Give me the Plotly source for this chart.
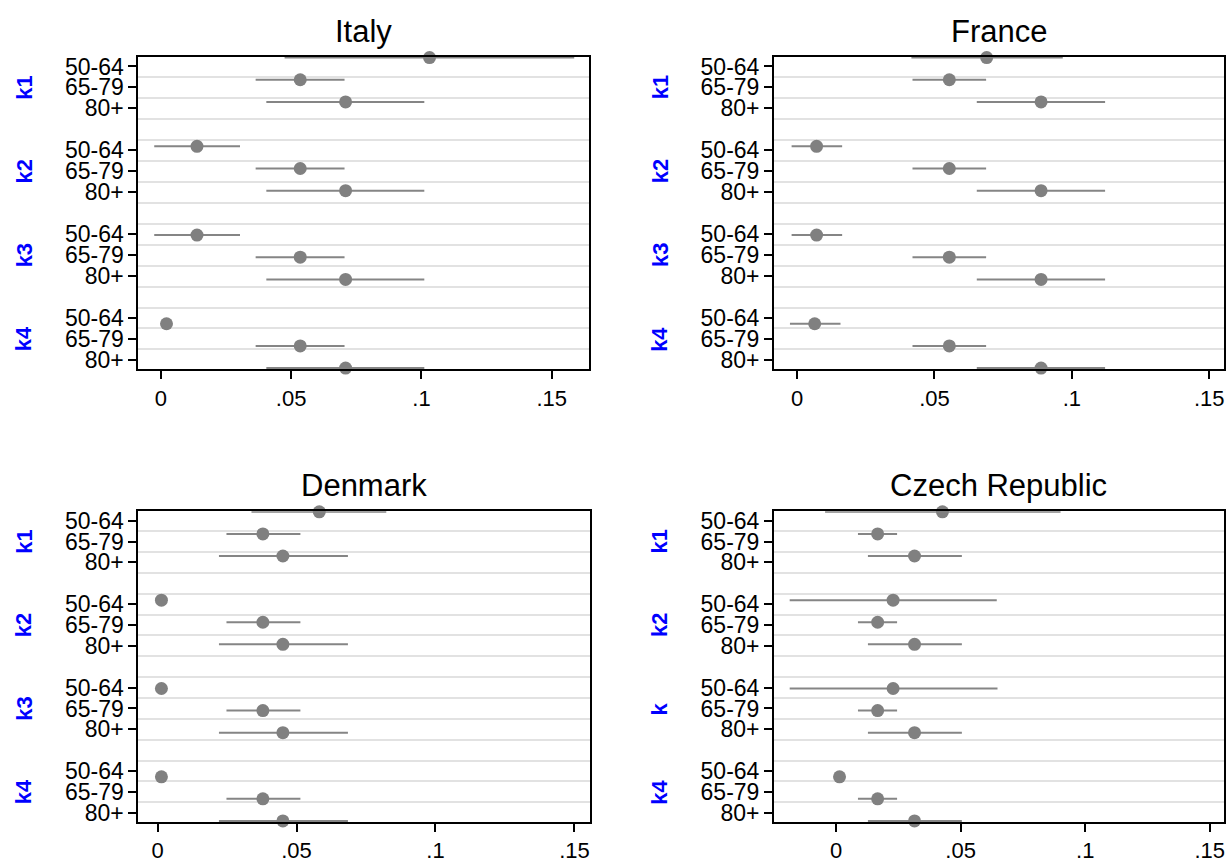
import plotly.graph_objects as go

# ---------------- data ----------------
countries = ["Italy", "France", "Denmark", "Czech Republic"]
age_groups = ["50-64", "65-79", "80+"]
group_names = {
    "Italy": ["k1", "k2", "k3", "k4"],
    "France": ["k1", "k2", "k3", "k4"],
    "Denmark": ["k1", "k2", "k3", "k4"],
    "Czech Republic": ["k1", "k2", "k", "k4"],
}

# row order: k1 (50-64, 65-79, 80+), k2 (...), k3 (...), k4 (...)
italy_est = [0.1031, 0.0535, 0.0709, 0.0139, 0.0535, 0.0709, 0.0139, 0.0535, 0.0709, 0.0022, 0.0535, 0.0709]
italy_lo = [0.0475, 0.0364, 0.0405, -0.0025, 0.0364, 0.0405, -0.0025, 0.0364, 0.0405, 0.0022, 0.0364, 0.0405]
italy_hi = [0.1586, 0.0705, 0.1011, 0.0304, 0.0705, 0.1011, 0.0304, 0.0705, 0.1011, 0.0022, 0.0705, 0.1011]

france_est = [0.0690, 0.0554, 0.0888, 0.0071, 0.0554, 0.0888, 0.0071, 0.0554, 0.0888, 0.0064, 0.0554, 0.0888]
france_lo = [0.0416, 0.0420, 0.0654, -0.0020, 0.0420, 0.0654, -0.0020, 0.0420, 0.0654, -0.0026, 0.0420, 0.0654]
france_hi = [0.0967, 0.0688, 0.1121, 0.0164, 0.0688, 0.1121, 0.0164, 0.0688, 0.1121, 0.0158, 0.0688, 0.1121]

denmark_est = [0.0582, 0.0379, 0.0451, 0.0014, 0.0379, 0.0451, 0.0014, 0.0379, 0.0451, 0.0014, 0.0379, 0.0451]
denmark_lo = [0.0338, 0.0248, 0.0221, 0.0014, 0.0248, 0.0221, 0.0014, 0.0248, 0.0221, 0.0014, 0.0248, 0.0221]
denmark_hi = [0.0823, 0.0514, 0.0685, 0.0014, 0.0514, 0.0685, 0.0014, 0.0514, 0.0685, 0.0014, 0.0514, 0.0685]

czech_est = [0.0427, 0.0167, 0.0315, 0.0229, 0.0167, 0.0315, 0.0229, 0.0167, 0.0315, 0.0014, 0.0167, 0.0315]
czech_lo = [-0.0044, 0.0088, 0.0128, -0.0186, 0.0088, 0.0128, -0.0186, 0.0088, 0.0128, 0.0014, 0.0088, 0.0128]
czech_hi = [0.0901, 0.0245, 0.0505, 0.0645, 0.0245, 0.0505, 0.0648, 0.0245, 0.0505, 0.0014, 0.0245, 0.0505]

x_tickvals = [0, 0.05, 0.1, 0.15]
x_ticktext = ["0", ".05", ".1", ".15"]

series = {
    "Italy": (italy_est, italy_lo, italy_hi),
    "France": (france_est, france_lo, france_hi),
    "Denmark": (denmark_est, denmark_lo, denmark_hi),
    "Czech Republic": (czech_est, czech_lo, czech_hi),
}

# ---------------- layout / style ----------------
W, H = 1231, 866
FONT = "Liberation Sans, Arial, Helvetica, sans-serif"
GRAY = "#808080"
CI_GRAY = "#858585"
GRID = "#e2e2e2"

# panel pixel boxes: (left, right, top, bottom)
boxes = {
    "Italy": (138.3, 590.3, 54.3, 369.0),
    "France": (775.0, 1225.5, 54.3, 369.0),
    "Denmark": (138.3, 590.7, 511.7, 825.0),
    "Czech Republic": (775.0, 1225.5, 511.7, 825.0),
}
xranges = {
    "Italy": [-0.0087, 0.1644],
    "France": [-0.0085, 0.1552],
    "Denmark": [-0.0070, 0.1555],
    "Czech Republic": [-0.0250, 0.1555],
}

n_rows = len(age_groups) * 4
slots = [i + i // 3 for i in range(n_rows)]          # blank slot between groups
labels = [age_groups[i % 3] for i in range(n_rows)]
grid_vals = [s + 0.5 for s in range(max(slots))]
group_centers = [slots[3 * g + 1] for g in range(4)]

fig = go.Figure()
annotations = []
layout_axes = {}

for k, c in enumerate(countries):
    est, lo, hi = series[c]
    xa = f"x{k + 1}"
    yp = f"y{2 * k + 1}"
    yl = f"y{2 * k + 2}"
    L, R, T, B = boxes[c]
    xdom = [L / W, R / W]
    ydom = [1 - B / H, 1 - T / H]

    fig.add_trace(go.Scatter(
        x=est, y=slots, mode="markers",
        marker=dict(size=13, color=GRAY, line=dict(width=0)),
        error_x=dict(type="data", symmetric=False,
                     array=[h - e for e, h in zip(est, hi)],
                     arrayminus=[e - l for e, l in zip(est, lo)],
                     width=0, thickness=2, color=CI_GRAY),
        xaxis=xa, yaxis=yp, cliponaxis=False, showlegend=False, hoverinfo="x+y",
    ))
    # invisible trace to carry the label axis
    fig.add_trace(go.Scatter(
        x=[est[0]], y=[0], mode="markers", marker=dict(opacity=0),
        xaxis=xa, yaxis=yl, showlegend=False, hoverinfo="skip",
    ))

    layout_axes[f"xaxis{k + 1}"] = dict(
        domain=xdom, range=xranges[c], anchor=yp,
        tickmode="array", tickvals=x_tickvals, ticktext=x_ticktext,
        ticks="outside", ticklen=8, tickwidth=1.5, tickcolor="black",
        showline=True, linecolor="black", linewidth=1.5, mirror=True,
        showgrid=False, zeroline=False,
        tickfont=dict(size=22, color="black", family=FONT),
    )
    layout_axes[f"yaxis{2 * k + 1}"] = dict(
        domain=ydom, range=[max(slots) + 0.06, -0.03], anchor=xa,
        visible=False, showgrid=False, zeroline=False,
    )
    layout_axes[f"yaxis{2 * k + 2}"] = dict(
        domain=ydom, overlaying=yp, anchor=xa, side="left",
        range=[max(slots) + 0.455, -0.455],
        tickmode="array", tickvals=slots, ticktext=labels,
        ticks="outside", ticklen=8, tickwidth=1.5, tickcolor="black",
        showline=True, linecolor="black", linewidth=1.5, mirror=True,
        showgrid=False, zeroline=False,
        minor=dict(tickmode="array", tickvals=grid_vals, showgrid=True,
                   gridcolor=GRID, gridwidth=2, ticks=""),
        tickfont=dict(size=23, color="black", family=FONT),
    )

    # title
    annotations.append(dict(
        text=c, xref="paper", yref="paper",
        x=(L + R) / 2 / W, y=1 - (T - 26) / H,
        xanchor="center", yanchor="middle", showarrow=False,
        font=dict(size=31, color="black", family=FONT),
    ))
    # group labels
    for g, gname in enumerate(group_names[c]):
        annotations.append(dict(
            text=gname, xref="paper", yref=yl,
            x=(L - 114) / W, y=group_centers[g],
            xanchor="center", yanchor="middle", showarrow=False,
            textangle=-90,
            font=dict(size=22, color="#0000ff", family=FONT, weight="bold"),
        ))

fig.update_layout(
    width=W, height=H, margin=dict(l=0, r=0, t=0, b=0),
    paper_bgcolor="white", plot_bgcolor="white",
    font=dict(family=FONT, color="black"),
    annotations=annotations, showlegend=False,
    **layout_axes,
)

fig.write_html("out.html", config={"displayModeBar": False},
               post_script="document.body.style.margin='0';document.body.style.overflow='hidden';")
